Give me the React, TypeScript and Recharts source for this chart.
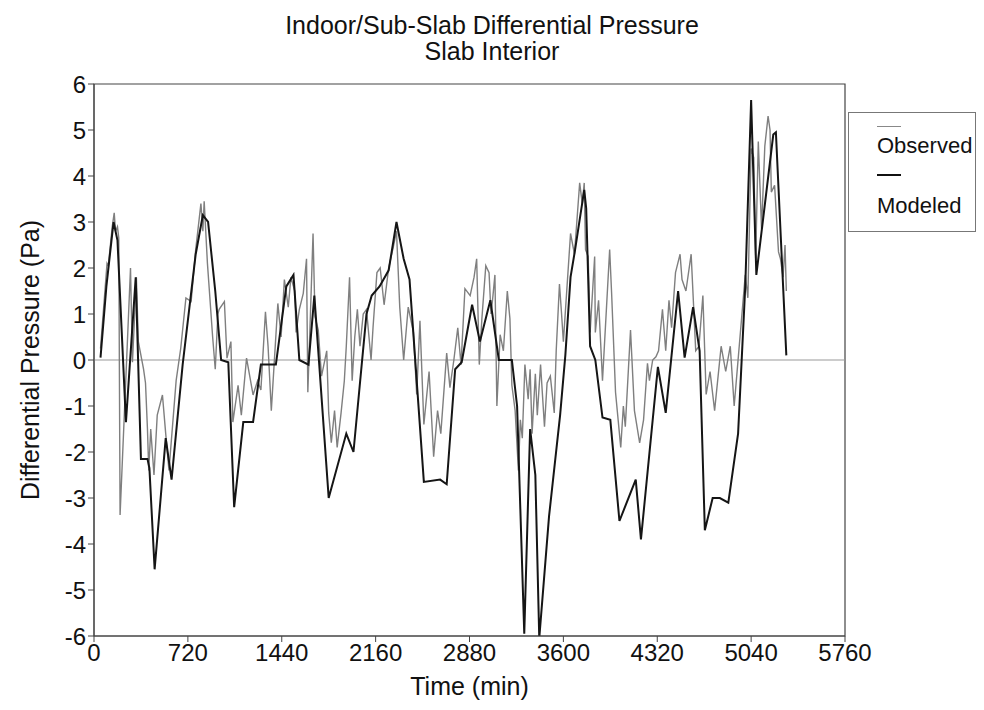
import React from "react";
import { LineChart, Line, XAxis, YAxis, ReferenceLine, ReferenceArea } from "recharts";

// time (min) → differential pressure (Pa)
const OBSERVED: [number, number][] = [
  [50, 0.25], [100, 2.1], [110, 2.05], [140, 2.9], [155, 3.2], [165, 2.8], [180, 2.9], [190, 2.65],
  [200, -3.37], [280, 2.0], [295, -0.05], [325, 1.8], [340, 0.4], [380, -0.2], [395, -0.5], [410, -1.5],
  [420, -2.4], [435, -1.5], [460, -2.5], [485, -1.2], [525, -0.76], [550, -1.6], [575, -2.4], [630, -0.45],
  [665, 0.25], [705, 1.35], [745, 1.27], [780, 2.4], [820, 3.4], [835, 2.8], [845, 3.45], [870, 2.1],
  [880, 1.7], [910, 0.5], [930, -0.2], [950, 1.0], [960, 1.1], [1000, 1.27], [1020, 0.04], [1050, 0.4],
  [1065, -1.35], [1105, -0.55], [1130, -1.2], [1170, 0.04], [1220, -0.76], [1255, -0.45], [1280, -0.65],
  [1315, 1.05], [1335, 0.3], [1360, -1.1], [1410, 1.23], [1435, 0.5], [1460, 1.75], [1490, 1.15],
  [1510, 1.8], [1540, 1.5], [1550, 0.6], [1575, 1.1], [1605, 1.45], [1630, 2.2], [1640, -0.7], [1660, 1.0],
  [1680, 2.75], [1695, 0.95], [1720, 0.65], [1745, -0.35], [1785, 0.2], [1800, -1.15], [1820, -1.8],
  [1845, -1.1], [1865, -1.9], [1895, -1.15], [1920, -0.45], [1935, 0.3], [1960, 1.8], [1980, -0.45],
  [2000, 0.5], [2020, 1.1], [2040, 0.3], [2065, 1.0], [2090, 1.1], [2125, 0.0], [2140, 0.7], [2170, 1.9],
  [2195, 2.0], [2225, 1.2], [2260, 2.0], [2295, 2.45], [2320, 2.8], [2345, 1.15], [2375, 0.0], [2410, 1.15],
  [2450, 0.6], [2475, -0.75], [2500, 0.85], [2530, -1.4], [2570, -0.25], [2605, -2.1], [2635, -1.1],
  [2660, -1.6], [2705, 0.15], [2730, -0.6], [2760, 0.0], [2790, 0.7], [2815, -0.1], [2845, 1.55],
  [2885, 1.4], [2915, 1.8], [2935, 2.2], [2955, -0.1], [2975, 0.9], [3005, 2.05], [3030, 1.9], [3045, 1.0],
  [3060, 1.4], [3075, 1.85], [3090, -1.0], [3115, 0.55], [3140, 0.2], [3170, 1.5], [3190, 0.9],
  [3205, -0.55], [3230, -1.1], [3255, -2.4], [3270, -1.3], [3285, -1.7], [3305, -0.1], [3330, -0.85],
  [3345, -0.2], [3360, -1.6], [3385, -0.3], [3400, -1.2], [3425, -0.1], [3455, -1.45], [3475, -0.5],
  [3500, -0.35], [3530, -1.15], [3545, 0.2], [3570, 1.65], [3585, 1.05], [3600, 0.4], [3655, 2.75],
  [3685, 2.3], [3725, 3.85], [3745, 3.4], [3760, 3.85], [3770, 2.4], [3790, 2.25], [3805, 0.6], [3840, 2.25],
  [3845, 0.6], [3870, 1.3], [3900, -0.45], [3955, 2.4], [3970, 1.45], [4000, -0.7], [4040, -1.9],
  [4060, -1.0], [4075, -1.45], [4115, 0.65], [4145, -1.1], [4185, -1.8], [4215, -1.3], [4245, -0.07],
  [4260, -0.45], [4285, 0.0], [4310, 0.07], [4330, 0.2], [4360, 1.1], [4385, 0.2], [4410, 1.3], [4430, 0.7],
  [4460, 1.9], [4495, 2.3], [4510, 1.75], [4540, 1.5], [4580, 2.3], [4615, 0.2], [4640, 0.3], [4670, 1.4],
  [4695, -0.75], [4725, -0.25], [4760, -1.1], [4810, 0.3], [4845, -0.25], [4880, 0.3], [4910, -1.0],
  [4925, -0.5], [4995, 1.85], [5015, 1.35], [5040, 4.6], [5060, 4.4], [5075, 2.2], [5095, 4.75],
  [5120, 2.85], [5145, 4.65], [5170, 5.3], [5185, 5.0], [5195, 3.65], [5220, 3.8], [5250, 2.35],
  [5265, 2.2], [5285, 1.8], [5300, 2.5], [5310, 1.5],
];

const MODELED: [number, number][] = [
  [50, 0.05], [95, 1.6], [150, 3.0], [180, 2.6], [245, -1.35], [320, 1.8], [360, -2.15], [410, -2.15],
  [425, -2.35], [465, -4.55], [550, -1.7], [595, -2.6], [680, -0.1], [780, 2.3], [835, 3.15], [875, 3.0],
  [930, 1.5], [975, 0.0], [1030, -0.05], [1075, -3.2], [1145, -1.35], [1220, -1.35], [1280, -0.1],
  [1395, -0.1], [1475, 1.6], [1530, 1.85], [1575, 0.0], [1645, -0.1], [1690, 1.4], [1800, -3.0],
  [1935, -1.6], [1990, -2.0], [2090, 1.0], [2130, 1.4], [2190, 1.6], [2260, 1.95], [2320, 3.0], [2375, 2.2],
  [2420, 1.75], [2530, -2.65], [2655, -2.6], [2705, -2.7], [2770, -0.2], [2820, -0.05], [2900, 1.2],
  [2960, 0.4], [3040, 1.3], [3105, 0.0], [3205, 0.0], [3245, -1.0], [3300, -5.95], [3345, -1.5],
  [3385, -2.5], [3415, -6.05], [3490, -3.4], [3575, -1.2], [3615, 0.1], [3655, 1.8], [3690, 2.4],
  [3760, 3.7], [3775, 3.3], [3805, 0.3], [3845, 0.0], [3900, -1.25], [3960, -1.3], [4030, -3.5],
  [4155, -2.6], [4195, -3.9], [4325, -0.15], [4385, -1.15], [4480, 1.5], [4530, 0.05], [4595, 1.15],
  [4645, 0.2], [4685, -3.7], [4745, -3.0], [4800, -3.0], [4865, -3.1], [4940, -1.6], [4995, 1.6],
  [5040, 5.65], [5080, 1.85], [5210, 4.9], [5230, 4.95], [5310, 0.1],
];

const TIME_TICKS = [0, 720, 1440, 2160, 2880, 3600, 4320, 5040, 5760];
const PA_TICKS = [-6, -5, -4, -3, -2, -1, 0, 1, 2, 3, 4, 5, 6];

const FONT = "'Liberation Sans', Arial, Helvetica, sans-serif";
const W = 968;
const H = 694;

const observedData = OBSERVED.map(([t, v]) => ({ t, v }));
const modeledData = MODELED.map(([t, v]) => ({ t, v }));

function LegendBox() {
  const row = { position: "absolute" as const, left: 28, fontSize: 22, color: "#111", lineHeight: "24px" };
  return (
    <div style={{ position: "absolute", left: 840, top: 104, width: 126, height: 118, border: "1px solid #777", background: "#fff" }}>
      <div style={{ position: "absolute", left: 28, top: 13, width: 24, borderTop: "1px solid #888" }} />
      <div style={{ ...row, top: 21 }}>Observed</div>
      <div style={{ position: "absolute", left: 28, top: 61, width: 24, borderTop: "2px solid #111" }} />
      <div style={{ ...row, top: 81 }}>Modeled</div>
    </div>
  );
}

export default function App() {
  return (
    <div style={{ position: "relative", width: W, height: H, fontFamily: FONT, background: "#fff" }}>
      {/* title */}
      <div style={{ position: "absolute", left: 0, top: 4, width: W, textAlign: "center", fontSize: 25, lineHeight: "26px", color: "#111" }}>
        <div>Indoor/Sub-Slab Differential Pressure</div>
        <div>Slab Interior</div>
      </div>
      {/* y axis title */}
      <div style={{ position: "absolute", left: 22, top: 352, transform: "translate(-50%, -50%) rotate(-90deg)", whiteSpace: "nowrap", fontSize: 25, color: "#111" }}>
        Differential Pressure (Pa)
      </div>

      <LineChart width={W} height={H} margin={{ top: 76, right: 131, bottom: 0, left: 0 }}>
        <XAxis
          type="number" dataKey="t" domain={[0, 5760]} ticks={TIME_TICKS} allowDataOverflow
          height={66} tickSize={6} stroke="#444"
          tick={{ fontSize: 24, fill: "#111", fontFamily: FONT }}
          label={{ value: "Time (min)", position: "insideBottom", offset: 7, fontSize: 25, fill: "#111", fontFamily: FONT }}
        />
        <YAxis
          type="number" domain={[-6, 6]} ticks={PA_TICKS} allowDataOverflow
          width={86} tickSize={6} stroke="#444" interval={0}
          tick={{ fontSize: 24, fill: "#111", fontFamily: FONT }}
        />
        <ReferenceArea x1={0} x2={5760} y1={-6} y2={6} fill="none" stroke="#444" strokeWidth={1.2} />
        <ReferenceLine y={0} stroke="#999" strokeWidth={1} />
        <Line data={observedData} dataKey="v" type="linear" stroke="#7f7f7f" strokeWidth={1.4} dot={false} isAnimationActive={false} />
        <Line data={modeledData} dataKey="v" type="linear" stroke="#151515" strokeWidth={2} dot={false} isAnimationActive={false} />
      </LineChart>

      <LegendBox />
    </div>
  );
}
